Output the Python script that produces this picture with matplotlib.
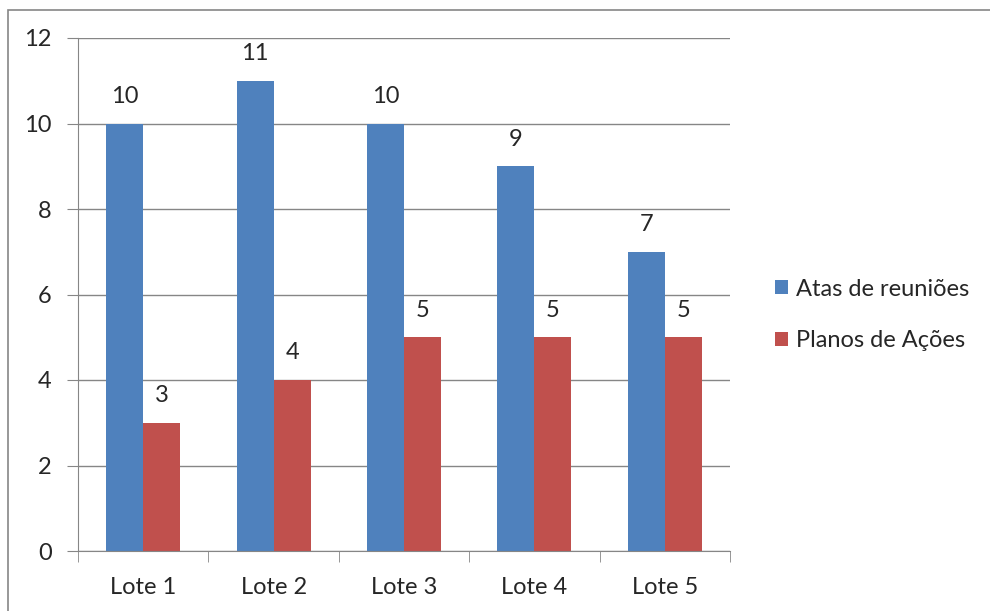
import matplotlib.pyplot as plt
import numpy as np
from matplotlib.patches import Rectangle

plt.rcParams["font.family"] = ["Lato", "DejaVu Sans"]

categorias = ["Lote 1", "Lote 2", "Lote 3", "Lote 4", "Lote 5"]
atas = [10, 11, 10, 9, 7]
planos = [3, 4, 5, 5, 5]
series = ["Atas de reuniões", "Planos de Ações"]

azul = "#4F81BD"
vermelho = "#C0504D"
cinza = "#868686"
texto = "#262626"

fig = plt.figure(figsize=(9.9, 6.11), dpi=100)
# borda externa do gráfico (direita e base ficam fora da imagem)
fig.patches.append(Rectangle((8 / 990, -0.05), 1.05, 1 - 10 / 611 + 0.05,
                             transform=fig.transFigure, fill=False,
                             edgecolor=cinza, linewidth=1.2))

ax = fig.add_axes([78 / 990, 1 - 551 / 611, (730 - 78) / 990, (551 - 38) / 611])

x = np.arange(len(categorias))
w = 0.284
b1 = ax.bar(x - w / 2, atas, w, color=azul, label=series[0])
b2 = ax.bar(x + w / 2, planos, w, color=vermelho, label=series[1])

for barras in (b1, b2):
    for r in barras:
        ax.annotate(str(int(r.get_height())),
                    (r.get_x() + r.get_width() / 2, r.get_height()),
                    xytext=(0, 19.5), textcoords="offset points",
                    ha="center", va="center", fontsize=17, color=texto)

ax.set_xlim(-0.5, len(categorias) - 0.5)
ax.set_ylim(0, 12)
ax.set_yticks(range(0, 13, 2))
ax.yaxis.grid(True, color=cinza, linewidth=1)
ax.set_axisbelow(True)

ax.set_xticks(x)
ax.set_xticklabels(categorias)
ax.set_xticks(np.arange(-0.5, len(categorias)), minor=True)
ax.tick_params(axis="x", which="major", length=0, pad=19, labelsize=17, labelcolor=texto)
ax.tick_params(axis="x", which="minor", length=8, direction="out", color=cinza)
ax.tick_params(axis="y", length=8, direction="out", color=cinza, pad=11, labelsize=17, labelcolor=texto)

for s in ["top", "right"]:
    ax.spines[s].set_visible(False)
for s in ["left", "bottom"]:
    ax.spines[s].set_color(cinza)

fig.legend(loc="center left", bbox_to_anchor=(775 / 990, 1 - 315 / 611),
           frameon=False, fontsize=17, handlelength=0.55, handleheight=0.55,
           handletextpad=0.35, labelspacing=1.3, labelcolor=texto,
           borderpad=0, borderaxespad=0)

fig.savefig("out.png", dpi=100)
